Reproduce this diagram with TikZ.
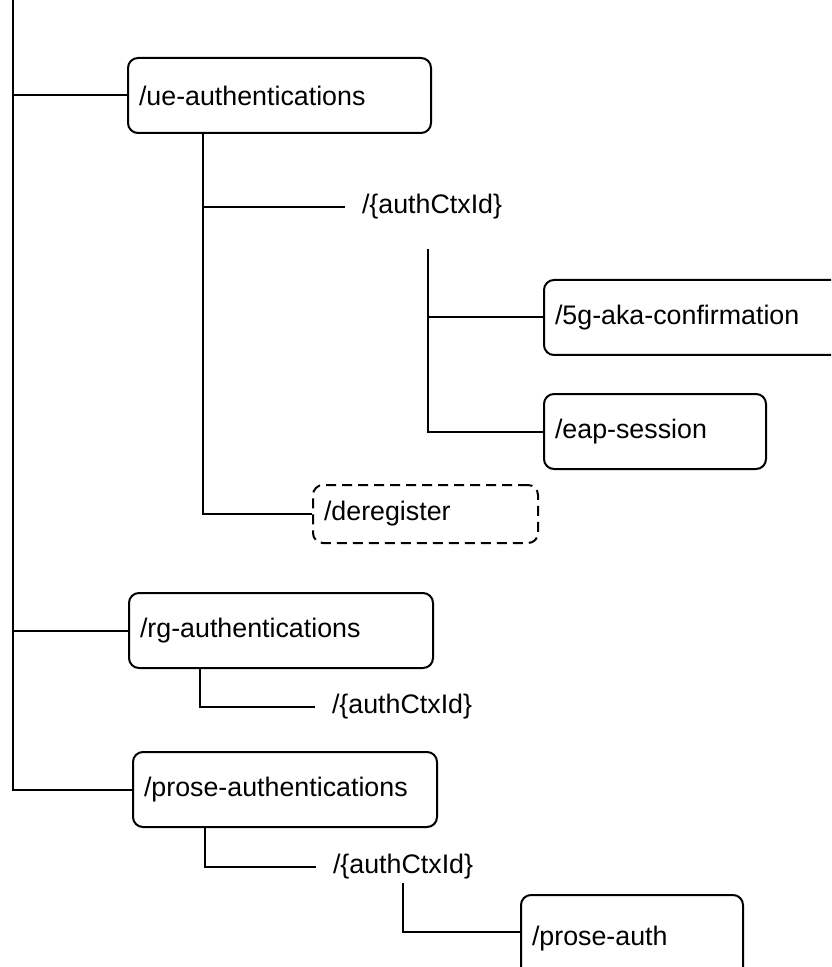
\documentclass[tikz,border=0pt]{standalone}
\usepackage{fontspec}
\setmainfont{Liberation Sans}
\usepackage{tikz}

\begin{document}
\begin{tikzpicture}[x=0.5pt, y=-0.5pt, line width=1pt, font=\fontsize{13.4}{16}\selectfont]
	\tikzstyle{res}=[draw, rectangle, rounded corners=5pt, anchor=north west, inner xsep=5.5pt, align=left, minimum height=37.5pt]
	\tikzstyle{opt}=[res, dash pattern=on 5pt off 3pt]
	\tikzstyle{var}=[anchor=west, inner xsep=8pt, inner ysep=1pt]

	\clip (0,0) rectangle (831,967);

	\node[res, text width=140.5pt] (ue) at (127,57) {/ue-authentications};
	\node[var] (ctxa) at (345,207) {/\{authCtxId\}};
	\node[res, text width=143pt] (fiveg) at (543,279) {/5g-aka-confirmation};
	\node[res, text width=100pt] (eap) at (543,393) {/eap-session};
	\node[opt, text width=101.5pt, minimum height=29pt] (dereg) at (312,484) {/deregister};
	\node[res, text width=141pt] (rg) at (128,592) {/rg-authentications};
	\node[var] (ctxb) at (315,707) {/\{authCtxId\}};
	\node[res, text width=141pt] (prose) at (132,751) {/prose-authentications};
	\node[var] (ctxc) at (316,867) {/\{authCtxId\}};
	\node[res, text width=100pt, minimum height=41pt, text depth=-4pt] (pauth) at (520,894) {/prose-auth};

	\coordinate (root) at (13,0);
	\coordinate (ctxa trunk) at (428,249);

	\draw (root) |- (prose.west);
	\draw (root |- ue.west) -- (ue.west);
	\draw (root |- rg.west) -- (rg.west);

	\draw (ue.south west) ++(76,0) |- (ctxa.west);
	\draw (ue.south west) ++(76,0) |- (dereg.west);
	\draw (ctxa trunk) |- (fiveg.west);
	\draw (ctxa trunk) |- (eap.west);

	\draw (rg.south west) ++(72,0) |- (ctxb.west);
	\draw (prose.south west) ++(73,0) |- (ctxc.west);
	\draw (ctxc.south) |- ([yshift=2pt]pauth.west);
\end{tikzpicture}
\end{document}
